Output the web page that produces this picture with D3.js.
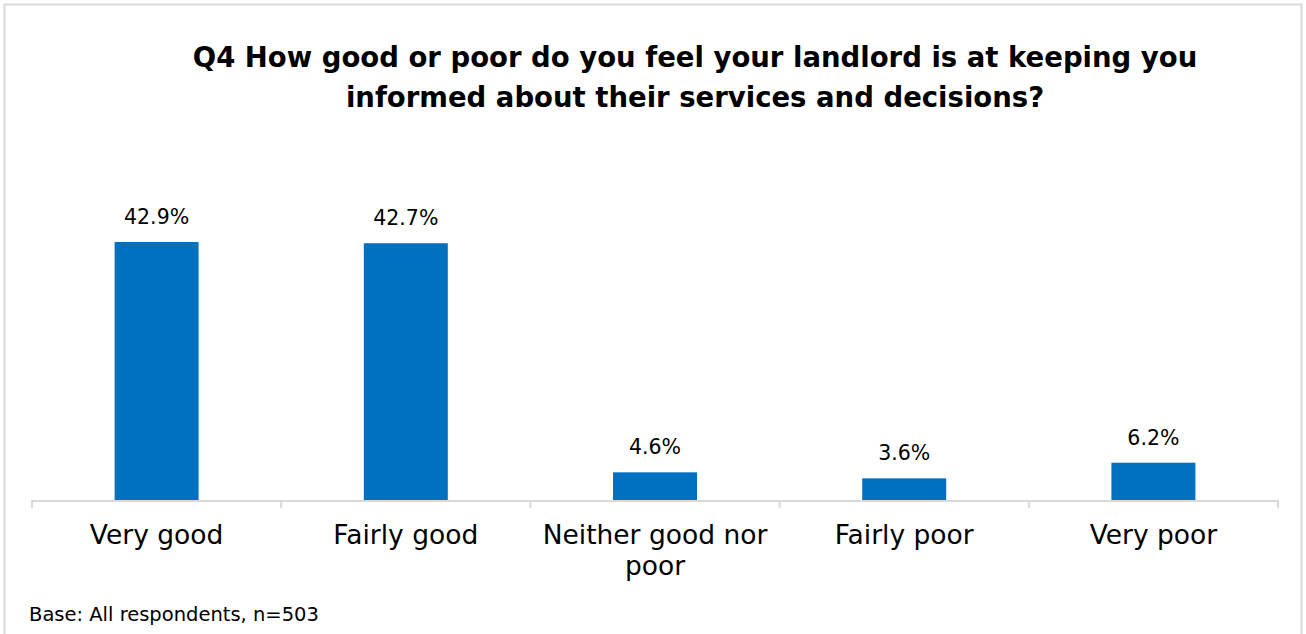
<!DOCTYPE html>
<html>
<head>
<meta charset="utf-8">
<script src="https://cdn.jsdelivr.net/npm/d3@7"></script>
<style>
  html, body { margin: 0; padding: 0; background: #fff; }
  svg { display: block; }
  text { font-family: "DejaVu Sans", "Noto Sans", sans-serif; fill: #000; }
</style>
</head>
<body>
<svg id="chart" width="1306" height="634"></svg>
<script>
// Survey responses, Q4 (share of respondents, %)
const categories = ["Very good", "Fairly good", "Neither good nor poor", "Fairly poor", "Very poor"];
const values = [42.9, 42.7, 4.6, 3.6, 6.2];
const valueLabels = ["42.9%", "42.7%", "4.6%", "3.6%", "6.2%"];
const titleLines = [
  "Q4 How good or poor do you feel your landlord is at keeping you",
  "informed about their services and decisions?"
];
const footnote = "Base: All respondents, n=503";

const W = 1306, H = 634;
const svg = d3.select("#chart");

// outer frame
svg.append("rect")
  .attr("x", 4.5).attr("y", 4.5)
  .attr("width", W - 9).attr("height", H)
  .attr("fill", "#fff").attr("stroke", "#D9D9D9").attr("stroke-width", 2);

// title
const title = svg.append("text")
  .attr("text-anchor", "middle")
  .attr("font-weight", "bold")
  .attr("font-size", 27.5);
titleLines.forEach((line, i) => {
  title.append("tspan").attr("x", 695).attr("y", 67 + i * 40).text(line);
});

const plot = { left: 32, right: 1278, bottom: 500 };
const pad = 0.663;

const x = d3.scaleBand()
  .domain(categories)
  .range([plot.left, plot.right])
  .paddingInner(pad)
  .paddingOuter(pad / 2);

const y = d3.scaleLinear()
  .domain([0, 50])
  .range([plot.bottom, plot.bottom - 300.7]);

// bars
svg.append("g").selectAll("rect")
  .data(values)
  .join("rect")
  .attr("x", (d, i) => x(categories[i]))
  .attr("y", d => y(d))
  .attr("width", x.bandwidth())
  .attr("height", d => y(0) - y(d))
  .attr("fill", "#0070C0");

// value labels
svg.append("g").selectAll("text")
  .data(values)
  .join("text")
  .attr("x", (d, i) => x(categories[i]) + x.bandwidth() / 2)
  .attr("y", d => y(d) - 18)
  .attr("text-anchor", "middle")
  .attr("font-size", 20.5)
  .text((d, i) => valueLabels[i]);

// category axis
const step = x.step();
const axis = svg.append("g");
axis.append("line")
  .attr("x1", plot.left).attr("x2", plot.right)
  .attr("y1", plot.bottom + 1).attr("y2", plot.bottom + 1)
  .attr("stroke", "#D9D9D9").attr("stroke-width", 2);

const boundaries = categories.map(c => x(c) - step * pad / 2).concat([plot.right]);
axis.selectAll("line.tick")
  .data(boundaries)
  .join("line")
  .attr("class", "tick")
  .attr("x1", d => d).attr("x2", d => d)
  .attr("y1", plot.bottom).attr("y2", plot.bottom + 8)
  .attr("stroke", "#D9D9D9").attr("stroke-width", 2);

// wrapped category labels
const maxLabelWidth = step - 20;
axis.selectAll("text.cat")
  .data(categories)
  .join("text")
  .attr("class", "cat")
  .attr("text-anchor", "middle")
  .attr("font-size", 26.5)
  .each(function (d) {
    const el = d3.select(this);
    const cx = x(d) + x.bandwidth() / 2;
    const words = d.split(" ");
    let line = [];
    let lineNo = 0;
    let tspan = el.append("tspan").attr("x", cx).attr("y", 544);
    words.forEach(w => {
      line.push(w);
      tspan.text(line.join(" "));
      if (tspan.node().getComputedTextLength() > maxLabelWidth && line.length > 1) {
        line.pop();
        tspan.text(line.join(" "));
        line = [w];
        lineNo += 1;
        tspan = el.append("tspan").attr("x", cx).attr("y", 544 + lineNo * 31).text(w);
      }
    });
  });

// base note
svg.append("text")
  .attr("x", 29).attr("y", 621)
  .attr("font-size", 19.5)
  .text(footnote);
</script>
</body>
</html>
